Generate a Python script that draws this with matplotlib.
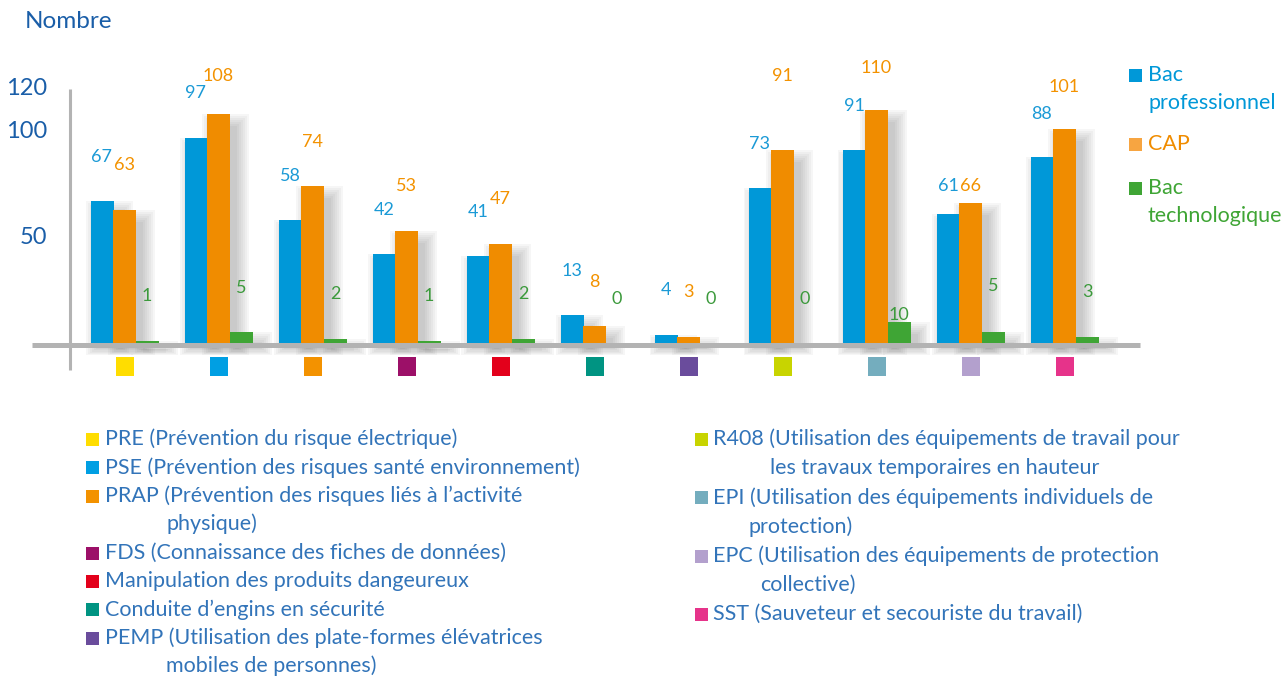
import numpy as np
import matplotlib
matplotlib.use("Agg")
import matplotlib.pyplot as plt
from matplotlib.patches import Rectangle

plt.rcParams['font.family'] = ['Lato', 'DejaVu Sans']

# Data
codes = ["PRE", "PSE", "PRAP", "FDS", "Manip", "Conduite", "PEMP", "R408", "EPI", "EPC", "SST"]
bac_pro = [67, 97, 58, 42, 41, 13, 4, 73, 91, 61, 88]
cap = [63, 108, 74, 53, 47, 8, 3, 91, 110, 66, 101]
bac_techno = [1, 5, 2, 1, 2, 0, 0, 0, 10, 5, 3]
series_names = ["Bac\nprofessionnel", "CAP", "Bac\ntechnologique"]
y_ticks = [50, 100, 120]

legend_left = [
    "PRE (Prévention du risque électrique)",
    "PSE (Prévention des risques santé environnement)",
    "PRAP (Prévention des risques liés à l’activité\nphysique)",
    "FDS (Connaissance des fiches de données)",
    "Manipulation des produits dangeureux",
    "Conduite d’engins en sécurité",
    "PEMP (Utilisation des plate-formes élévatrices\nmobiles de personnes)",
]
legend_right = [
    "R408 (Utilisation des équipements de travail pour\nles travaux temporaires en hauteur",
    "EPI (Utilisation des équipements individuels de\nprotection)",
    "EPC (Utilisation des équipements de protection\ncollective)",
    "SST (Sauveteur et secouriste du travail)",
]

# label offsets above bars (in chart units), as placed in the original
off_pro = [21, 21, 21, 21, 21, 21, 21, 21, 21, 13, 20]
off_cap = [21, 18, 21, 21, 21, 21, 21, 35, 20, 8, 20]
off_techno = [21, 21, 21, 21, 21, 21, 21, 21, 3, 22, 21]

# colours
c_pro, c_cap, c_techno = "#0098d8", "#f08c00", "#3fa535"
cat_colors = ["#ffdd00", "#009fe3", "#f39200", "#9c1068", "#e3001b", "#009482",
              "#6a4c9c", "#c8d400", "#74adbe", "#b3a0cd", "#e6338a"]
txt_blue = "#3274b9"
dark_blue = "#1a5ea8"
axis_gray = "#b3b3b3"

W, H = 1287, 676
X0, SX, Y0, SY = 124.5, 94.0, 343.0, 2.117


def px(x):
    return (x - X0) / SX


def py(y):
    return (Y0 - y) / SY


fig = plt.figure(figsize=(W / 100, H / 100), dpi=100)
ax = fig.add_axes([0, 0, 1, 1])
ax.set_xlim(px(0), px(W))
ax.set_ylim(py(H), py(0))
ax.axis("off")

x = np.arange(len(codes))
bw = 23 / SX
dx = 22.5 / SX

# soft drop shadows behind the bars
for offs, vals in [(-dx, bac_pro), (0, cap), (dx, bac_techno)]:
    for xi, v in zip(x, vals):
        if v == 0:
            continue
        for e in range(0, 14, 2):
            left = xi + offs - bw / 2 + (7 - e) / SX
            right = xi + offs + bw / 2 + (7 + e) / SX
            top = v - (12 - e) / SY
            bot = -(5 + e * 0.6) / SY
            ax.add_patch(Rectangle((left, bot), right - left, top - bot,
                                   color="#444444", alpha=0.045, lw=0, zorder=1))

# axes lines
ax.hlines(-2.5 / SY, px(32), px(1140), color=axis_gray, lw=3.6, zorder=2)
ax.vlines(px(70), py(370), 120, color=axis_gray, lw=2.2, zorder=2)

ax.bar(x - dx, bac_pro, bw, color=c_pro, zorder=3)
ax.bar(x, cap, bw, color=c_cap, zorder=3)
ax.bar(x + dx, bac_techno, bw, color=c_techno, zorder=3)

# category colour squares below the axis
ax.bar(x, py(357) - py(376), 18 / SX, bottom=py(376), color=cat_colors, zorder=3)

# value labels
for xi, v, o in zip(x, bac_pro, off_pro):
    ax.text(xi - dx, v + o, str(v), color="#1b9ad6", fontsize=13, ha="center", va="center", zorder=4)
for xi, v, o in zip(x, cap, off_cap):
    ax.text(xi, v + o, str(v), color="#f39200", fontsize=13, ha="center", va="center", zorder=4)
for xi, v, o in zip(x, bac_techno, off_techno):
    ax.text(xi + dx, v + o, str(v), color="#3c9a3c", fontsize=13, ha="center", va="center", zorder=4)

# y tick labels
for t in y_ticks:
    ax.text(px(47), t, str(t), color=dark_blue, fontsize=17, ha="right", va="center")
ax.text(px(25), py(22), "Nombre", color=dark_blue, fontsize=17.5, ha="left", va="center")

# series legend on the right
leg_y = [75, 144, 188]
for name, col, sq_col, y in zip(series_names, [c_pro, c_cap, c_techno],
                                ["#0098d8", "#f7a541", "#3fa535"], leg_y):
    ax.add_patch(Rectangle((px(1129), py(y + 7)), 13 / SX, 13 / SY, color=sq_col, lw=0))
    for k, line in enumerate(name.split("\n")):
        ax.text(px(1148), py(y + 28 * k), line, color=col, fontsize=15.5,
                ha="left", va="center")


# category legend at the bottom
def draw_legend(labels, colors, sq_x, txt_x, indents, y0, step):
    y = y0
    for lab, col, ind in zip(labels, colors, indents):
        lines = lab.split("\n")
        ax.add_patch(Rectangle((px(sq_x), py(y + 7)), 13 / SX, 13 / SY, color=col, lw=0))
        ax.text(px(txt_x), py(y), lines[0], color=txt_blue, fontsize=15.5,
                ha="left", va="center")
        for extra in lines[1:]:
            y += step
            ax.text(px(ind), py(y), extra, color=txt_blue, fontsize=15.5,
                    ha="left", va="center")
        y += step


draw_legend(legend_left, cat_colors[:7], 86, 105, [166] * 7, 439, 28.4)
draw_legend(legend_right, cat_colors[7:], 695, 713, [770, 748, 760, 713], 439, 29.2)

fig.savefig("out.png", dpi=100)
